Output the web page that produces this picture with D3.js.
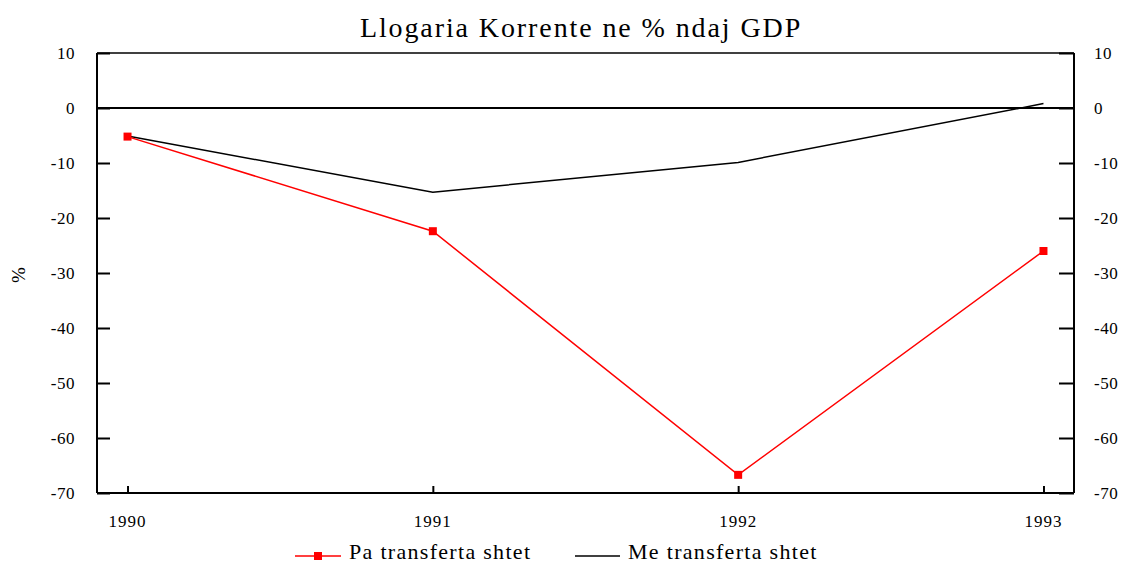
<!DOCTYPE html>
<html>
<head>
<meta charset="utf-8">
<script src="https://cdn.jsdelivr.net/npm/d3@7"></script>
<style>
  body { margin: 0; background: #fff; }
  text { font-family: "Liberation Serif", "DejaVu Serif", serif; fill: #000; }
</style>
</head>
<body>
<svg id="drawing_region"></svg>
<script>
const width = 1123;
const height = 564;
const margin = {top: 53, right: 49, bottom: 71, left: 97};

const years = ["1990", "1991", "1992", "1993"];
const pa_transferta = [-5.2, -22.4, -66.7, -26.0];
const me_transferta = [-5.1, -15.3, -9.9, 0.8];
const y_ticks = [10, 0, -10, -20, -30, -40, -50, -60, -70];

const svg = d3.select('#drawing_region')
    .attr('width', width)
    .attr('height', height);

const inner_w = width - margin.left - margin.right;
const inner_h = height - margin.top - margin.bottom;

const xscale = d3.scalePoint()
    .domain(years)
    .range([margin.left, margin.left + inner_w])
    .padding(0.1);

const yscale = d3.scaleLinear()
    .domain([-70, 10])
    .range([margin.top + inner_h, margin.top]);

// frame top
svg.append("line")
    .attr("x1", margin.left).attr("x2", margin.left + inner_w)
    .attr("y1", margin.top).attr("y2", margin.top)
    .attr("stroke", "#000").attr("stroke-width", 1.5);

// left axis, ticks inward
const left_axis = svg.append("g")
    .attr("transform", `translate(${margin.left},0)`)
    .call(d3.axisRight(yscale).tickValues(y_ticks).tickSize(13).tickFormat(""));
left_axis.selectAll("path,line").attr("stroke", "#000").attr("stroke-width", 2);
left_axis.select(".domain").attr("d", `M0,${margin.top}V${margin.top + inner_h}`);

svg.append("g").selectAll("text.yl")
    .data(y_ticks)
    .join("text")
    .attr("class", "yl")
    .attr("x", 75)
    .attr("y", d => yscale(d) + 6)
    .attr("text-anchor", "end")
    .attr("font-size", "17px")
    .attr("letter-spacing", "0.5px")
    .text(d => d);

// right axis, ticks inward
const right_axis = svg.append("g")
    .attr("transform", `translate(${margin.left + inner_w},0)`)
    .call(d3.axisLeft(yscale).tickValues(y_ticks).tickSize(15).tickFormat(""));
right_axis.selectAll("path,line").attr("stroke", "#000").attr("stroke-width", 2);
right_axis.select(".domain").attr("d", `M0,${margin.top}V${margin.top + inner_h}`);

svg.append("g").selectAll("text.yr")
    .data(y_ticks)
    .join("text")
    .attr("class", "yr")
    .attr("x", 1094)
    .attr("y", d => yscale(d) + 6)
    .attr("text-anchor", "start")
    .attr("font-size", "17px")
    .attr("letter-spacing", "0.5px")
    .text(d => d);

// bottom axis, ticks inward
const bottom_axis = svg.append("g")
    .attr("transform", `translate(0,${margin.top + inner_h})`)
    .call(d3.axisTop(xscale).tickSize(7).tickFormat(""));
bottom_axis.selectAll("path,line").attr("stroke", "#000").attr("stroke-width", 2);
bottom_axis.select(".domain").attr("d", `M${margin.left},0H${margin.left + inner_w}`);

svg.append("g").selectAll("text.xl")
    .data(years)
    .join("text")
    .attr("class", "xl")
    .attr("x", d => xscale(d))
    .attr("y", 527)
    .attr("text-anchor", "middle")
    .attr("font-size", "17px")
    .attr("letter-spacing", "1px")
    .text(d => d);

// zero line
svg.append("line")
    .attr("x1", margin.left).attr("x2", margin.left + inner_w)
    .attr("y1", yscale(0)).attr("y2", yscale(0))
    .attr("stroke", "#000").attr("stroke-width", 2);

const line = d3.line()
    .x((d, i) => xscale(years[i]))
    .y(d => yscale(d));

svg.append("path")
    .datum(me_transferta)
    .attr("d", line)
    .attr("fill", "none")
    .attr("stroke", "#000")
    .attr("stroke-width", 1.5);

svg.append("path")
    .datum(pa_transferta)
    .attr("d", line)
    .attr("fill", "none")
    .attr("stroke", "#ff0000")
    .attr("stroke-width", 1.5);

svg.selectAll("rect.mk")
    .data(pa_transferta)
    .join("rect")
    .attr("class", "mk")
    .attr("x", (d, i) => xscale(years[i]) - 4)
    .attr("y", d => yscale(d) - 4)
    .attr("width", 8)
    .attr("height", 8)
    .attr("fill", "#ff0000");

// title
svg.append("text")
    .attr("x", 581)
    .attr("y", 37)
    .attr("text-anchor", "middle")
    .attr("font-size", "28px")
    .attr("letter-spacing", "1.9px")
    .text("Llogaria Korrente ne % ndaj GDP");

// y label
svg.append("text")
    .attr("transform", "translate(25,275) rotate(-90)")
    .attr("text-anchor", "middle")
    .attr("font-size", "19px")
    .text("%");

// legend
const legend = svg.append("g");
legend.append("line")
    .attr("x1", 295).attr("x2", 341).attr("y1", 556).attr("y2", 556)
    .attr("stroke", "#ff0000").attr("stroke-width", 1.5);
legend.append("rect")
    .attr("x", 314).attr("y", 552).attr("width", 8).attr("height", 8)
    .attr("fill", "#ff0000");
legend.append("text")
    .attr("x", 349).attr("y", 559)
    .attr("font-size", "22px")
    .attr("letter-spacing", "1.3px")
    .text("Pa transferta shtet");
legend.append("line")
    .attr("x1", 575).attr("x2", 620).attr("y1", 556).attr("y2", 556)
    .attr("stroke", "#000").attr("stroke-width", 1.5);
legend.append("text")
    .attr("x", 628).attr("y", 559)
    .attr("font-size", "22px")
    .attr("letter-spacing", "1.3px")
    .text("Me transferta shtet");
</script>
</body>
</html>
